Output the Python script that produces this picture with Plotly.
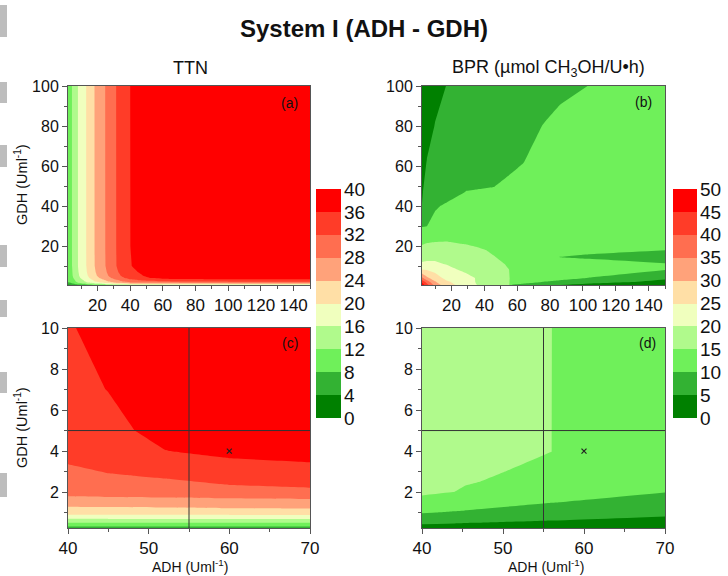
import plotly.graph_objects as go

# ---------------- data ----------------
# TTN : one grid used by panel (a) and its zoom (c)
ttn_adh = [2, 4.6, 8.2, 13.3, 18.4, 25, 31.7, 40, 45, 52, 60, 70, 100, 150]
ttn_gdh = [0.25, 0.5, 0.7, 0.9, 1.2, 1.7, 2.2, 2.8, 3.4, 4, 5, 7, 10, 20, 100]
# one list per ADH column, values along GDH
ttn_cols = [
    [1.9, 3.3, 4.5, 5.6, 6.5, 7.7, 8.2, 8.5, 8.9, 9.3, 9.6, 9.8, 9.96, 9.99, 10.0],
    [2.4, 4.0, 5.4, 6.8, 7.8, 9.3, 10.0, 10.3, 10.8, 11.3, 11.7, 11.9, 12.1, 12.14, 12.15],
    [3.1, 5.4, 7.2, 9.0, 10.4, 12.4, 13.3, 13.7, 14.4, 15.0, 15.5, 15.8, 16.1, 16.13, 16.15],
    [3.9, 6.7, 9.0, 11.2, 13.0, 15.5, 16.6, 17.1, 18.0, 18.7, 19.3, 19.8, 20.07, 20.13, 20.15],
    [4.7, 8.0, 10.8, 13.4, 15.6, 18.5, 19.9, 20.5, 21.5, 22.4, 23.2, 23.7, 24.05, 24.13, 24.15],
    [5.5, 9.4, 12.6, 15.7, 18.2, 21.6, 23.1, 23.9, 25.1, 26.1, 27.0, 27.6, 28.04, 28.12, 28.15],
    [6.3, 10.7, 14.4, 17.9, 20.7, 24.7, 26.4, 27.3, 28.7, 29.8, 30.8, 31.5, 32.02, 32.12, 32.15],
    [6.5, 11.8, 16.1, 20.0, 23.2, 27.6, 29.6, 30.6, 32.1, 33.4, 34.5, 35.3, 35.85, 35.97, 35.99],
    [6.5, 11.9, 16.2, 20.1, 23.4, 27.7, 30.0, 31.6, 33.6, 34.6, 35.3, 36.05, 36.6, 37.0, 37.2],
    [6.5, 11.9, 16.2, 20.1, 23.6, 27.8, 30.3, 32.5, 34.4, 35.95, 36.8, 37.3, 37.6, 37.9, 38.0],
    [6.5, 12.0, 16.3, 20.2, 23.9, 28.0, 31.4, 33.8, 35.5, 36.7, 37.4, 38.0, 38.4, 38.8, 39.0],
    [6.5, 12.0, 16.4, 20.3, 24.05, 28.3, 31.95, 34.3, 35.9, 37.0, 37.7, 38.3, 38.7, 39.0, 39.3],
    [6.5, 12.1, 16.5, 20.4, 24.2, 28.5, 32.1, 34.5, 36.1, 37.2, 37.9, 38.5, 38.9, 39.2, 39.5],
    [6.5, 12.1, 16.5, 20.4, 24.2, 28.5, 32.1, 34.5, 36.1, 37.2, 37.9, 38.5, 38.9, 39.2, 39.5],
]
ttn_z = [list(r) for r in zip(*ttn_cols)]

# BPR : panel (b), full range
bpr_adh = [2, 5, 10, 17, 29, 35, 46, 55, 57, 63, 77, 86, 104, 150]
bpr_gdh = [0.5, 2, 4, 8, 11, 14.5, 18, 21, 30, 40, 47, 62, 80, 100]
bpr_z = [
    [48, 42, 33, 27, 22.5, 20.1, 18, 15.4, 9.8, 9.3, 6.5, 5.0, 3.5, 2.5],
    [44, 38, 30.5, 25.8, 22, 19.8, 17.8, 15.6, 11.5, 11.0, 9.85, 9.5, 6.5, 3.9],
    [36, 31, 27.5, 23.5, 21.5, 19.8, 17.5, 15.5, 13.0, 12.2, 11.3, 10.6, 9.95, 5.6],
    [25.3, 25, 23.5, 21.5, 19, 18.3, 17, 15.05, 13.5, 12.8, 12.4, 11.8, 11, 10.05],
    [20.6, 20.7, 20.5, 19.8, 18.5, 18, 16.2, 14.5, 13.8, 13.3, 13.0, 12.5, 12.9, 10.25],
    [18.5, 19, 19.3, 19.2, 18, 17, 15.1, 14.0, 13.6, 12.8, 11.3, 9.95, 9.0, 8.0],
    [16.5, 17, 17.5, 17.5, 16.5, 15.6, 14.5, 13.5, 13.3, 13.0, 12.6, 12.2, 11.5, 10.1],
    [14.7, 15.3, 15.5, 15.5, 14.9, 14.5, 13.8, 13.3, 13.2, 13.0, 12.8, 12.4, 12.2, 11.5],
    [9.7, 9.95, 11.2, 12.0, 12.2, 12.3, 12.4, 12.5, 12.5, 12.6, 12.6, 12.6, 12.7, 12.8],
    [5.05, 6.5, 9.6, 10.5, 11, 11.2, 11.4, 11.6, 11.6, 11.8, 12, 12.1, 12.3, 12.5],
    [4.8, 5.8, 7.0, 8.5, 10.1, 10.2, 10.3, 11.0, 11.1, 11.2, 11.8, 12, 12.3, 12.5],
    [4.0, 5.1, 6.0, 6.8, 7.5, 7.8, 8.5, 9.2, 9.4, 9.9, 11.0, 11.5, 12.0, 12.5],
    [3.0, 4.0, 5.1, 6.2, 7.0, 7.4, 8.1, 8.8, 9.0, 9.4, 10.1, 10.8, 11.5, 12],
    [2.5, 3.2, 4.2, 5.05, 6.3, 6.8, 7.6, 8.2, 8.3, 8.6, 9.2, 9.3, 10.05, 11],
]

# BPR : panel (d), zoomed range
bprz_adh = [40, 44, 45.3, 56, 56.3, 70]
bprz_gdh = [0.25, 0.5, 1, 1.5, 2, 2.5, 3, 4, 10]
bprz_cols = [
    [3, 5.7, 10.3, 14, 15.5, 16.3, 16.7, 17, 17.5],
    [2.8, 5.3, 9.6, 12.8, 14.98, 16.0, 16.5, 17, 17.5],
    [2.7, 5.1, 9.4, 12.2, 14.2, 15.5, 16.3, 16.9, 17.5],
    [2.2, 4.2, 7.6, 10.1, 11.6, 12.6, 13.5, 15.05, 15.3],
    [2.2, 4.2, 7.6, 10.1, 11.6, 12.3, 12.6, 12.8, 12.9],
    [1.7, 3.3, 6.0, 8.1, 10.1, 11.2, 11.8, 12.3, 12.8],
]
bprz_z = [list(r) for r in zip(*bprz_cols)]

ttn_levels = [0, 4, 8, 12, 16, 20, 24, 28, 32, 36, 40]
bpr_levels = [0, 5, 10, 15, 20, 25, 30, 35, 40, 45, 50]

optimum_adh = [55]
optimum_gdh = [5]
point_adh = [60]
point_gdh = [4]

# ---------------- style ----------------
W, H = 728, 576
FONT = "Liberation Sans, Arial, sans-serif"
band_colors = ["#008000", "#33b233", "#6ff05a", "#b0fa8c", "#f0ffbe",
               "#ffdfa6", "#ffa27a", "#ff6e50", "#ff3c28", "#ff0000"]
n = len(band_colors)
cscale = []
for k, c in enumerate(band_colors):
    lo = 0.0 if k == 0 else (k + 0.5) / (n + 1)
    hi = 1.0 if k == n - 1 else (k + 1.5) / (n + 1)
    cscale += [[lo, c], [hi, c]]


def px_x(p):
    return p / W


def px_y(p):
    return 1 - p / H


def contour(x, y, z, xa, ya, levels):
    step = levels[1] - levels[0]
    return go.Contour(x=x, y=y, z=z, xaxis=xa, yaxis=ya, autocontour=False,
                      contours=dict(start=levels[0], end=levels[-1], size=step,
                                    coloring="fill", showlines=False),
                      line=dict(width=0, smoothing=0), colorscale=cscale, showscale=False,
                      hoverinfo="skip")


def legend_bar(levels, xa, ya):
    # discrete colour key drawn as stacked segments
    heights = [b - a for a, b in zip(levels[:-1], levels[1:])]
    return go.Bar(x=[0] * len(heights), y=heights, base=levels[:-1], width=1,
                  marker=dict(color=band_colors, line=dict(width=0)),
                  xaxis=xa, yaxis=ya, showlegend=False, hoverinfo="skip")


fig = go.Figure()
fig.add_trace(contour(ttn_adh, ttn_gdh, ttn_z, "x", "y", ttn_levels))
fig.add_trace(contour(bpr_adh, bpr_gdh, bpr_z, "x2", "y2", bpr_levels))
fig.add_trace(contour(ttn_adh, ttn_gdh, ttn_z, "x3", "y3", ttn_levels))
fig.add_trace(contour(bprz_adh, bprz_gdh, bprz_z, "x4", "y4", bpr_levels))
for xa, ya in (("x3", "y3"), ("x4", "y4")):
    fig.add_trace(go.Scatter(x=point_adh, y=point_gdh, xaxis=xa, yaxis=ya, mode="markers",
                             marker=dict(symbol="x-thin", size=5, line=dict(width=1.2, color="#222")),
                             showlegend=False, hoverinfo="skip"))
fig.add_trace(legend_bar(ttn_levels, "x5", "y5"))
fig.add_trace(legend_bar(bpr_levels, "x6", "y6"))

axc = dict(showline=True, linecolor="#555", linewidth=1, mirror=True, ticks="outside",
           ticklen=5, tickcolor="#555", showgrid=False, zeroline=False, automargin=False)
fx = dict(tickfont=dict(size=17, color="#111", family=FONT))
fy = dict(tickfont=dict(size=16, color="#111", family=FONT))
dom_xl = [px_x(68), px_x(310)]
dom_xr = [px_x(422), px_x(665)]
dom_yt = [px_y(285), px_y(86)]
dom_yb = [px_y(528), px_y(328)]

big_x = dict(range=[2, 150], tickvals=[20, 40, 60, 80, 100, 120, 140],
             minor=dict(tickvals=[10, 30, 50, 70, 90, 110, 130, 150], ticks="outside", ticklen=3, tickcolor="#555"))
big_y = dict(range=[0.5, 100], tickvals=[20, 40, 60, 80, 100],
             minor=dict(tickvals=[10, 30, 50, 70, 90], ticks="outside", ticklen=3, tickcolor="#555"))
zoom_x = dict(range=[40, 70], tickvals=[40, 50, 60, 70],
              minor=dict(tickvals=[45, 55, 65], ticks="outside", ticklen=3, tickcolor="#555"))
zoom_y = dict(range=[0.25, 10], tickvals=[2, 4, 6, 8, 10],
              minor=dict(tickvals=[1, 3, 5, 7, 9], ticks="outside", ticklen=3, tickcolor="#555"))

cb_y = [px_y(418), px_y(189)]
cb_hidden_x = dict(range=[-0.5, 0.5], visible=False, fixedrange=True)
cb_axis = dict(side="right", showline=False, ticks="", showgrid=False, zeroline=False,
               automargin=False, ticklabelstandoff=2,
               tickfont=dict(size=19, color="#111", family=FONT))

fig.update_layout(
    width=W, height=H, margin=dict(l=0, r=0, t=0, b=0, autoexpand=False),
    paper_bgcolor="white", plot_bgcolor="white", showlegend=False,
    font=dict(family=FONT, color="#111"), bargap=0,
    xaxis=dict(**axc, **fx, **big_x, domain=dom_xl, anchor="y"),
    yaxis=dict(**axc, **fy, **big_y, domain=dom_yt, anchor="x"),
    xaxis2=dict(**axc, **fx, **big_x, domain=dom_xr, anchor="y2"),
    yaxis2=dict(**axc, **fy, **big_y, domain=dom_yt, anchor="x2"),
    xaxis3=dict(**axc, **fx, **zoom_x, domain=dom_xl, anchor="y3"),
    yaxis3=dict(**axc, **fy, **zoom_y, domain=dom_yb, anchor="x3"),
    xaxis4=dict(**axc, **fx, **zoom_x, domain=dom_xr, anchor="y4"),
    yaxis4=dict(**axc, **fy, **zoom_y, domain=dom_yb, anchor="x4"),
    xaxis5=dict(**cb_hidden_x, domain=[px_x(316), px_x(341)], anchor="y5"),
    yaxis5=dict(**cb_axis, range=[ttn_levels[0], ttn_levels[-1]], tickvals=ttn_levels,
                domain=cb_y, anchor="x5"),
    xaxis6=dict(**cb_hidden_x, domain=[px_x(673), px_x(697)], anchor="y6"),
    yaxis6=dict(**cb_axis, range=[bpr_levels[0], bpr_levels[-1]], tickvals=bpr_levels,
                domain=cb_y, anchor="x6"),
)

# crosshair lines on the zoomed panels
shapes = []
for xa, ya in (("x3", "y3"), ("x4", "y4")):
    shapes.append(dict(type="line", xref=xa, yref=ya + " domain", x0=optimum_adh[0], x1=optimum_adh[0],
                       y0=0, y1=1, line=dict(color="#333", width=1)))
    shapes.append(dict(type="line", xref=xa + " domain", yref=ya, x0=0, x1=1, y0=optimum_gdh[0],
                       y1=optimum_gdh[0], line=dict(color="#333", width=1)))
# grey scan artefacts on the left edge
for y0, y1 in [(5, 37), (82, 103), (145, 167), (245, 267), (300, 317), (372, 393), (473, 497)]:
    shapes.append(dict(type="rect", xref="paper", yref="paper", x0=0, x1=px_x(7),
                       y0=px_y(y1), y1=px_y(y0), fillcolor="#bdbdbd", line=dict(width=0), layer="below"))
fig.update_layout(shapes=shapes)

ann = []


def text(s, x, y, size, bold=False, angle=0):
    ann.append(dict(text=("<b>%s</b>" % s) if bold else s, x=px_x(x), y=px_y(y), xref="paper", yref="paper",
                    showarrow=False, xanchor="center", yanchor="middle", textangle=angle,
                    font=dict(size=size, color="#111", family=FONT)))


text("System I (ADH - GDH)", 364, 28, 24, bold=True)
text("TTN", 190, 68, 18)
text("BPR (µmol CH<sub>3</sub>OH/U•h)", 548, 68, 18)
text("(a)", 289, 103, 14)
text("(b)", 643, 102, 14)
text("(c)", 290, 343, 14)
text("(d)", 647, 343, 14)
text("GDH (Uml<sup>-1</sup>)", 21, 185, 14.5, angle=-90)
text("GDH (Uml<sup>-1</sup>)", 21, 428, 14.5, angle=-90)
text("ADH (Uml<sup>-1</sup>)", 190, 566, 14)
text("ADH (Uml<sup>-1</sup>)", 546, 566, 14)
fig.update_layout(annotations=ann)

# the page body's default 8 px margin would shift the figure; remove it
fig.write_html("out.html", config={"displayModeBar": False},
               post_script="document.body.style.margin='0px';")
